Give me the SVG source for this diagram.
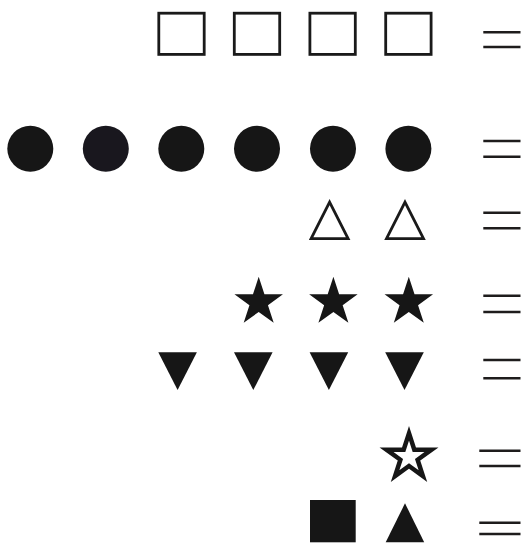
<svg xmlns="http://www.w3.org/2000/svg" width="521" height="545" viewBox="0 0 521 545">
<style>
.ink{fill:#161616}
.out{fill:none;stroke:#1a1a1a;stroke-width:2.8;stroke-linejoin:miter}
.eq{stroke:#1e1c1c;stroke-width:2.6;fill:none}
</style>
<defs>
<rect id="sq" x="-22.7" y="-20.6" width="45.4" height="41.2"/>
<circle id="dot" r="23"/>
<path id="tri" d="M0,-18.3 L18.5,18.2 L-18.5,18.2 Z"/>
<path id="star" d="M0,-25.5 L5.72,-7.88 L24.25,-7.88 L9.26,3.01 L14.99,20.63 L0,9.74 L-14.99,20.63 L-9.26,3.01 L-24.25,-7.88 L-5.72,-7.88 Z"/>
<path id="dtri" d="M-19.3,0 L19.3,0 L0,37.7 Z"/>
</defs>
<rect width="521" height="545" fill="#fff"/>
<g id="row1" class="out" stroke-width="3">
<use href="#sq" x="181.5" y="33.8"/>
<use href="#sq" x="257" y="33.8"/>
<use href="#sq" x="332.6" y="33.8"/>
<use href="#sq" x="408.4" y="33.8"/>
</g>
<g id="row2">
<use href="#dot" x="30.3" y="148.8" class="ink"/>
<use href="#dot" x="105.8" y="148.8" fill="#19171e"/>
<use href="#dot" x="181.3" y="148.8" class="ink"/>
<use href="#dot" x="257" y="148.8" class="ink"/>
<use href="#dot" x="333" y="148.8" class="ink"/>
<use href="#dot" x="408.4" y="148.8" class="ink"/>
</g>
<g id="row3" class="out">
<use href="#tri" x="329.6" y="220.5"/>
<use href="#tri" x="405" y="220.5"/>
</g>
<g id="row4" class="ink">
<use href="#star" x="258.7" y="302.2"/>
<use href="#star" x="333.4" y="302.2"/>
<use href="#star" x="408.8" y="302.2"/>
</g>
<g id="row5" class="ink">
<use href="#dtri" x="177.6" y="352.3"/>
<use href="#dtri" x="253.3" y="352.3"/>
<use href="#dtri" x="328.9" y="352.3"/>
<use href="#dtri" x="404.5" y="352.3"/>
</g>
<g id="row6">
<path d="M409,433.3 L414.32,449.68 L431.54,449.68 L417.61,459.8 L422.93,476.17 L409,466.05 L395.07,476.17 L400.39,459.8 L386.46,449.68 L403.68,449.68 Z" fill="none" stroke="#161616" stroke-width="4.5" stroke-linejoin="miter"/>
</g>
<g id="row7" class="ink">
<rect x="310" y="500" width="45.7" height="42.3"/>
<path d="M405,503.3 L424.2,542.3 L385.7,542.3 Z"/>
</g>
<g id="equals" class="eq">
<path d="M483.3,32.2 H520.5 M483.3,47 H520.5"/>
<path d="M483.3,141 H520.5 M483.3,156.7 H520.5"/>
<path d="M483.3,212.7 H520.5 M483.3,228.3 H520.5"/>
<path d="M483.3,295.8 H520.5 M483.3,312 H520.5"/>
<path d="M483.3,360 H520.5 M483.3,378.3 H520.5"/>
<path d="M479.3,450.7 H520.5 M479.3,466 H520.5"/>
<path d="M479.3,522.7 H520.5 M479.3,534 H520.5"/>
</g>
</svg>
